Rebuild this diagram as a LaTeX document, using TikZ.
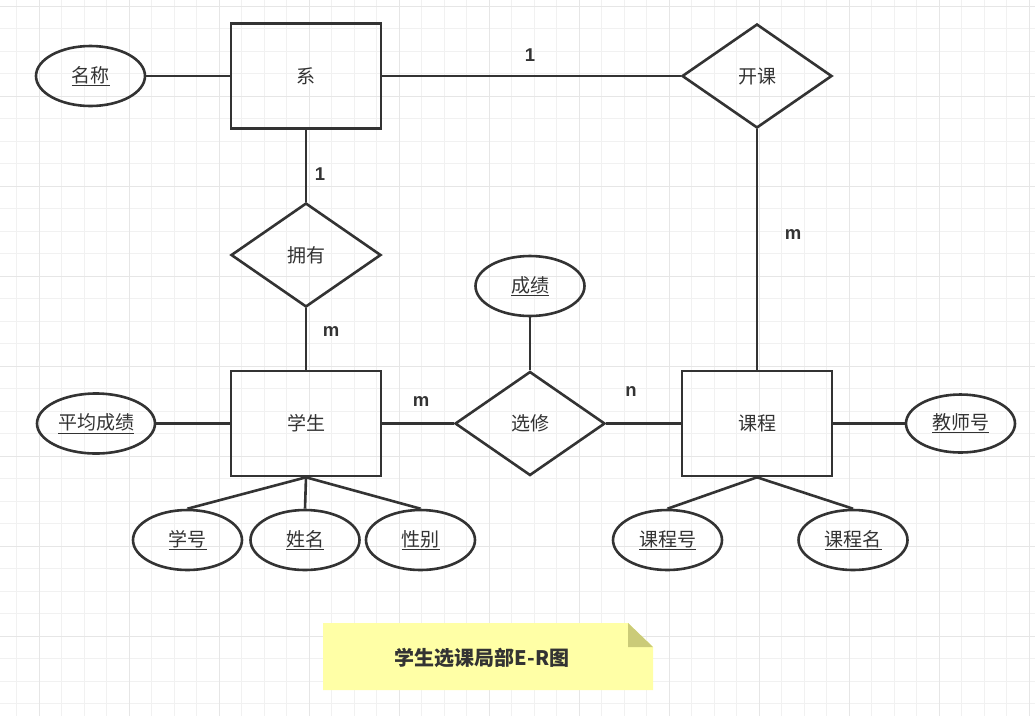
\documentclass[tikz,border=0pt]{standalone}
\usepackage{fontspec}
\setmainfont{Noto Sans CJK SC}
\newfontfamily\labfont{Liberation Sans}
\usetikzlibrary{shapes.geometric}
\definecolor{ink}{HTML}{333333}
\definecolor{gridminor}{HTML}{F1F1F1}
\definecolor{gridmajor}{HTML}{E6E6E6}
\definecolor{notefill}{HTML}{FFFFA6}
\definecolor{notefold}{HTML}{CBCB78}
\tikzset{
  every node/.style={text=ink, font=\fontsize{19}{21}\selectfont},
  conn/.style={draw=ink, line width=2.6pt},
  entity/.style={draw=ink, line width=2.6pt, rectangle, minimum width=150pt, minimum height=105pt, inner sep=0pt},
  rel/.style={draw=ink, line width=2.6pt, diamond, minimum width=150pt, minimum height=104pt, inner sep=0pt},
  attr/.style={draw=ink, line width=2.6pt, ellipse, minimum width=109pt, minimum height=60pt, inner sep=0pt},
  card/.style={font=\labfont\bfseries\fontsize{18.5}{20}\selectfont, text=ink},
}
\newcommand{\ul}[1]{\underline{#1}}
\begin{document}
\begin{tikzpicture}[x=1pt,y=-1pt]
\useasboundingbox (0,0) rectangle (1035,716);
\fill[white] (0,0) rectangle (1035,716);
% grid
\foreach \i in {0,...,46} {
  \pgfmathsetmacro{\xx}{-6+22.5*\i}
  \draw[gridminor, line width=1pt] (\xx,0) -- (\xx,716);
}
\foreach \i in {0,...,32} {
  \pgfmathsetmacro{\yy}{6+22.5*\i}
  \draw[gridminor, line width=1pt] (0,\yy) -- (1035,\yy);
}
\foreach \i in {0,...,11} {
  \pgfmathsetmacro{\xx}{39+90*\i}
  \draw[gridmajor, line width=1pt] (\xx,0) -- (\xx,716);
}
\foreach \i in {0,...,7} {
  \pgfmathsetmacro{\yy}{6+90*\i}
  \draw[gridmajor, line width=1pt] (0,\yy) -- (1035,\yy);
}
% entities
\node[entity] (xi) at (306,76) {系};
\node[entity] (xs) at (306,423.5) {学生};
\node[entity] (kc) at (757,423.5) {课程};
% relations
\node[rel] (yy) at (306,255) {拥有};
\node[rel] (xx) at (530,423.5) {选修};
\node[rel] (kk) at (757,76) {开课};
% attributes
\node[attr] (mc) at (90.5,76) {\ul{名称}};
\node[attr] (cj) at (530,286) {\ul{成绩}};
\node[attr, minimum width=118pt] (pj) at (96,423.5) {\ul{平均成绩}};
\node[attr] (xh) at (187.5,540) {\ul{学号}};
\node[attr] (xm) at (305,540) {\ul{姓名}};
\node[attr] (xb) at (420.5,540) {\ul{性别}};
\node[attr, minimum height=58pt] (js) at (960.5,423.5) {\ul{教师号}};
\node[attr] (kh) at (667.5,540) {\ul{课程号}};
\node[attr] (km) at (853,540) {\ul{课程名}};
% connectors
\draw[conn] (mc.east) -- (xi.west);
\draw[conn] (xi.east) -- (kk.west);
\draw[conn] (xi.south) -- (yy.north);
\draw[conn] (yy.south) -- (xs.north);
\draw[conn] (kk.south) -- (kc.north);
\draw[conn] (pj.east) -- (xs.west);
\draw[conn] (xs.east) -- (xx.west);
\draw[conn] (xx.east) -- (kc.west);
\draw[conn] (kc.east) -- (js.west);
\draw[conn] (cj.south) -- (xx.north);
\draw[conn] (xs.south) -- (xh.north);
\draw[conn] (xs.south) -- (xm.north);
\draw[conn] (xs.south) -- (xb.north);
\draw[conn] (kc.south) -- (kh.north);
\draw[conn] (kc.south) -- (km.north);
% cardinalities
\node[card] (c1) at (530,55) {1};
\node[card] (c2) at (320,174) {1};
\node[card] (c3) at (331,332) {m};
\node[card] (c4) at (793,235) {m};
\node[card] (c5) at (421,402) {m};
\node[card] (c6) at (631,392) {n};
% note
\fill[notefill] (323,623) -- (628,623) -- (653,647) -- (653,690) -- (323,690) -- cycle;
\fill[notefold] (628,623) -- (653,647) -- (628,647) -- cycle;
\node[font=\bfseries\fontsize{20}{22}\selectfont] (note) at (482,658) {学生选课局部E-R图};
\end{tikzpicture}
\end{document}
